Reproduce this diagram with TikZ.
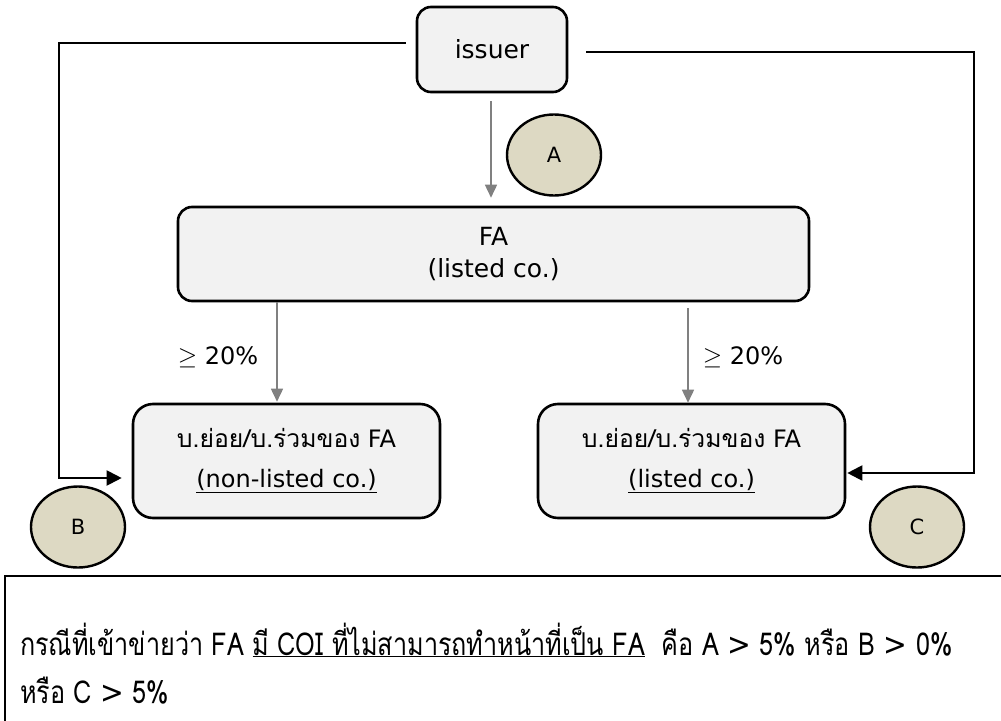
\documentclass[tikz,border=0pt]{standalone}
\usepackage{fontspec}
\setmainfont{DejaVu Sans}
\newfontfamily\thai[Script=Thai,Scale=1.03]{Loma}
\newfontfamily\notefont[Script=Thai,FakeStretch=0.8]{Loma}
\newfontfamily\symfont[FakeStretch=0.9]{DejaVu Sans}
\usepackage{tikz}
\usetikzlibrary{shapes.geometric,arrows.meta,positioning}
\definecolor{boxfill}{HTML}{F2F2F2}
\definecolor{tagfill}{HTML}{DDD9C3}
\definecolor{feedgray}{HTML}{808080}

\begin{document}
\begin{tikzpicture}[x=1pt, y=-1pt,
    every node/.style={font=\fontsize{24}{32}\selectfont},
    box/.style={rectangle, draw, line width=2.6pt, rounded corners=14pt, fill=boxfill, align=center, inner sep=0pt},
    subbox/.style={box, rounded corners=20pt, minimum width=307pt, minimum height=114pt, font=\fontsize{24}{40}\selectfont},
    tag/.style={ellipse, draw, line width=2.4pt, fill=tagfill, minimum width=94pt, minimum height=81pt, inner sep=0pt, font=\fontsize{21}{22}\selectfont},
    link/.style={line width=2pt, -{Triangle[length=15pt,width=15pt]}},
    feed/.style={draw=feedgray, line width=1.6pt, -{Triangle[length=13pt,width=12pt]}}
]
\useasboundingbox (0,0) rectangle (1001,720);

\node[box, minimum width=150pt, minimum height=85pt, font=\fontsize{25}{32}\selectfont] (issuer) at (492,49.5) {issuer};
\node[box, minimum width=631pt, minimum height=94pt, font=\fontsize{25}{32}\selectfont] (fa) at (493.5,254) {FA\\(listed co.)};
\node[subbox] (subB) at (286.5,461) {{\thai บ.ย่อย/บ.ร่วมของ} FA\\\underline{(non-listed co.)}};
\node[subbox] (subC) at (691.5,461) {{\thai บ.ย่อย/บ.ร่วมของ} FA\\\underline{(listed co.)}};

\node[tag] (tagA) at (554,155) {A};
\node[tag] (tagB) at (78,527) {B};
\node[tag] (tagC) at (917,527) {C};

\node (pctB) at (218,357) {$\geq$ 20\%};
\node (pctC) at (743,357) {$\geq$ 20\%};

\draw[feed] ([shift={(-1,8)}]issuer.south) -- ([shift={(-2.5,-8)}]fa.north);
\draw[feed] ([shift={(-9.5,0)}]subB.north |- fa.south) -- ([shift={(-9.5,-1)}]subB.north);
\draw[feed] ([shift={(-3.5,6)}]subC.north |- fa.south) -- ([shift={(-3.5,0)}]subC.north);

\draw[link] ([shift={(-10,-7)}]issuer.west) -| ([shift={(-73,17)}]subB.west) -- ([shift={(-10,17)}]subB.west);
\draw[link] ([shift={(18,2.5)}]issuer.east) -| ([shift={(128,12)}]subC.east) -- ([shift={(1,12)}]subC.east);

\node[draw, line width=2pt, anchor=north west, minimum width=1020pt, minimum height=170pt, inner sep=0pt] (note) at (4,575) {};
\node[anchor=base west, inner sep=0pt, font=\notefont\fontsize{31.5}{36}\selectfont] (noteA) at ([shift={(16,80)}]note.north west)
    {กรณีที่เข้าข่ายว่า FA \underline{มี COI ที่ไม่สามารถทำหน้าที่เป็น FA}\ \ คือ A {\symfont>} 5\% หรือ B {\symfont>} 0\%};
\node[anchor=base west, inner sep=0pt, font=\notefont\fontsize{31.5}{36}\selectfont] (noteB) at ([shift={(0,48)}]noteA.base west)
    {หรือ C {\symfont>} 5\%};

\end{tikzpicture}
\end{document}
